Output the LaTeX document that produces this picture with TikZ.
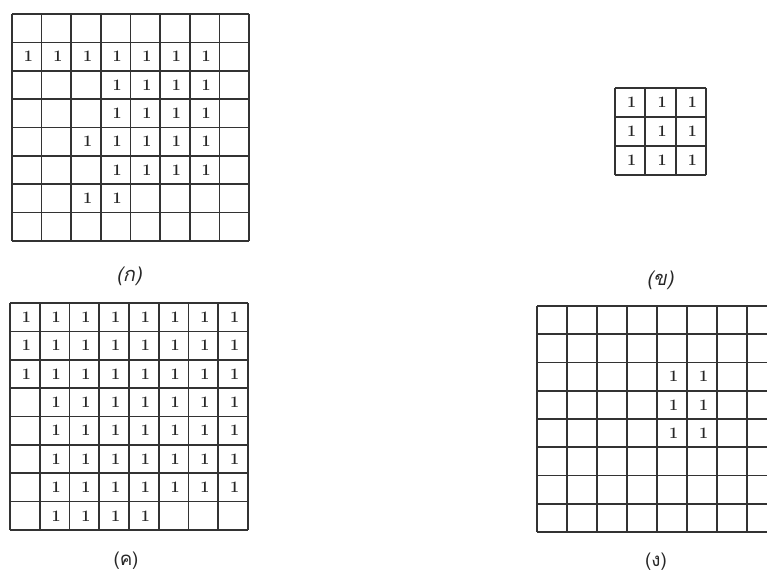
\documentclass[tikz,border=0pt]{standalone}
\usepackage{fontspec}
\usepackage{tikz}
\usepackage{xcolor}
\newfontfamily\thaifont[Script=Thai]{Loma}
\newfontfamily\thaislant[Script=Thai,FakeSlant=0.2]{Loma}

% x0, y0, dx, dy, nx, ny
\newcommand{\cellgrid}[6]{%
  \foreach \i in {0,...,#5} \draw[gridline] ({#1+\i*#3},#2) -- ({#1+\i*#3},{#2+#6*#4});
  \foreach \j in {0,...,#6} \draw[gridline] (#1,{#2+\j*#4}) -- ({#1+#5*#3},{#2+\j*#4});
}
% name, x0, y0, dx, dy, row/first/last
\newcommand{\onecells}[6]{%
  \foreach \r/\a/\b in {#6}
    \foreach \c in {\a,...,\b}
      \node[one] (#1-\r-\c) at ({#2+(\c+0.55)*#4},{#3+(\r+0.5)*#5}) {1};
}

\begin{document}
\begin{tikzpicture}[x=0.75pt,y=-0.75pt,
  gridline/.style={draw=black!80,line width=1.3pt},
  one/.style={inner sep=0pt,text=black!85,font=\fontsize{12}{12}\selectfont\bfseries},
  lab/.style={inner sep=0pt,text=black!85}]
  \useasboundingbox (0,0) rectangle (767,574);
  \clip (0,0) rectangle (767,574);
  % (ก)
  \cellgrid{12}{14}{29.625}{28.375}{8}{8}
  \onecells{ga}{12}{14}{29.625}{28.375}{1/0/6,2/3/6,3/3/6,4/2/6,5/3/6,6/2/3}
  \node[lab,font=\thaislant\fontsize{15}{15}\selectfont] (la) at (129,276) {(ก)};
  % (ข)
  \cellgrid{615}{88}{30.33}{29}{3}{3}
  \onecells{gb}{615}{88}{30.33}{29}{0/0/2,1/0/2,2/0/2}
  \node[lab,font=\thaislant\fontsize{15}{15}\selectfont] (lb) at (660,280) {(ข)};
  % (ค)
  \cellgrid{10}{303}{29.75}{28.375}{8}{8}
  \onecells{gc}{10}{303}{29.75}{28.375}{0/0/7,1/0/7,2/0/7,3/1/7,4/1/7,5/1/7,6/1/7,7/1/4}
  \node[lab,font=\thaifont\fontsize{14}{14}\selectfont] (lc) at (126,561) {(ค)};
  % (ง)
  \cellgrid{537}{306}{30}{28.25}{8}{8}
  \onecells{gd}{537}{306}{30}{28.25}{2/4/5,3/4/5,4/4/5}
  \node[lab,font=\thaifont\fontsize{14}{14}\selectfont] (ld) at (656,562) {(ง)};
\end{tikzpicture}
\end{document}
